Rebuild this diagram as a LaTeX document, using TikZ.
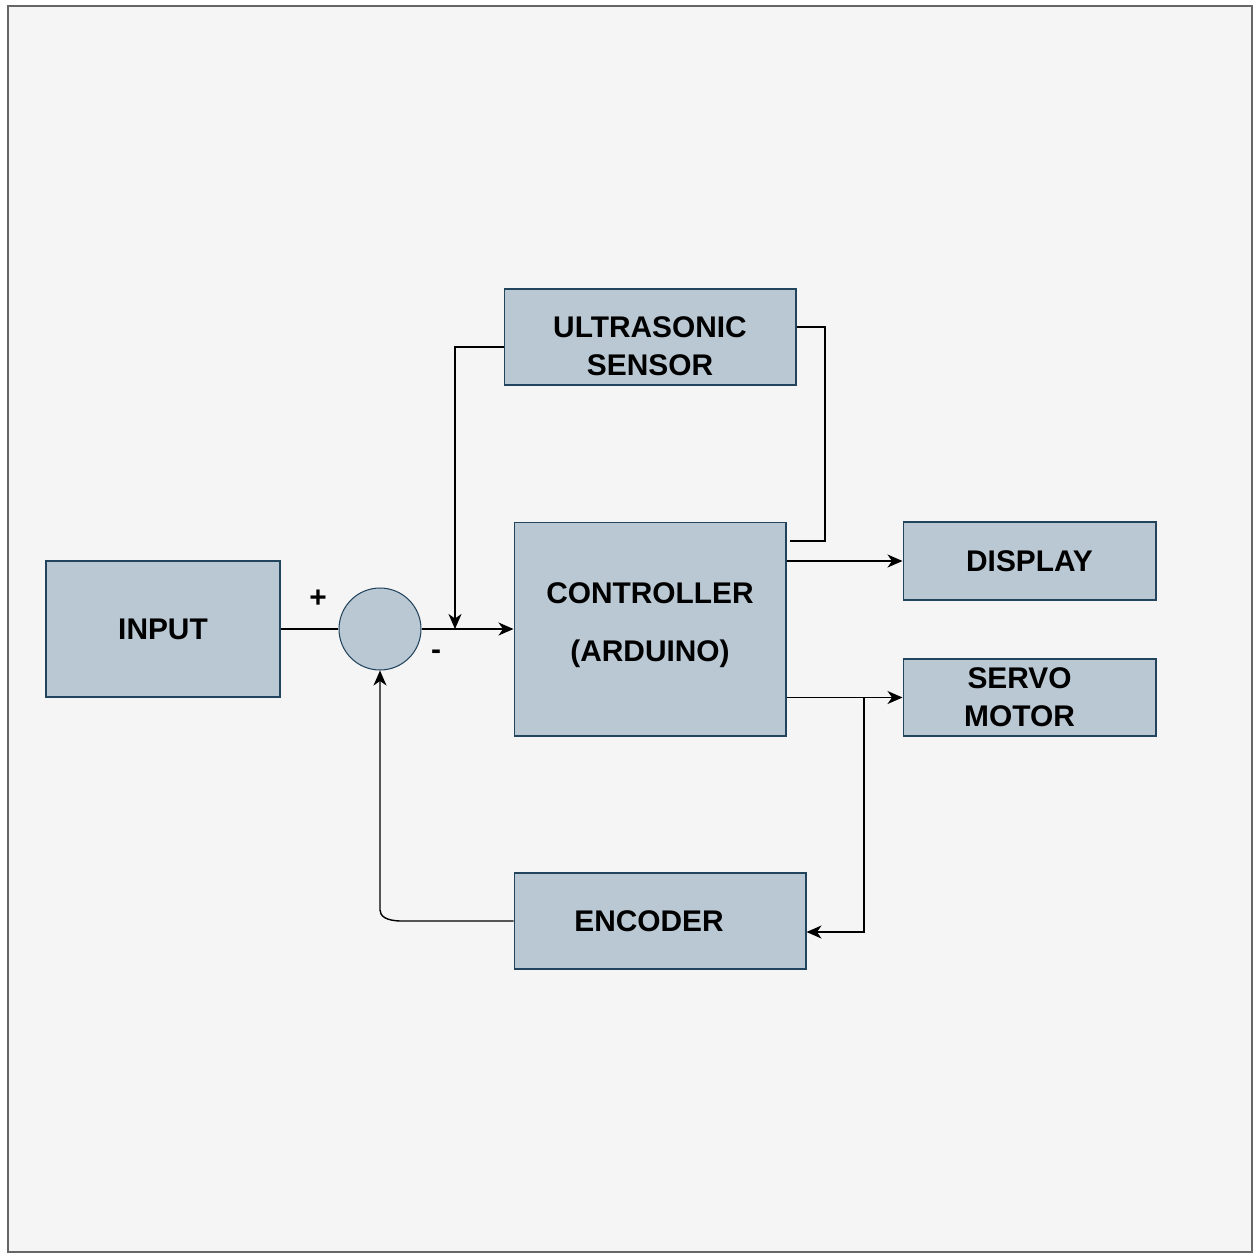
\documentclass[tikz,border=0pt]{standalone}
\usepackage{fontspec}
\setmainfont{Liberation Sans}
\usepackage{tikz}
\usetikzlibrary{arrows,arrows.meta,positioning}
\definecolor{boxfill}{HTML}{BAC8D3}
\definecolor{boxline}{HTML}{23445D}
\definecolor{pagebg}{HTML}{F5F5F5}

\begin{document}
\begin{tikzpicture}[>={Stealth[length=0.3cm,width=0.26cm,inset=0.09cm]},x=0.02cm,y=-0.02cm,thick,
                    font=\fontsize{17}{21.6}\selectfont\bfseries]
  \tikzstyle{block}=[draw=boxline,fill=boxfill,semithick,align=center,inner sep=0pt]
  \tikzstyle{sumnode}=[circle,draw=boxline,fill=boxfill,semithick,minimum size=1.64cm,inner sep=0pt]

  % page
  \useasboundingbox (0,0) rectangle (1253,1254);
  \draw[fill=pagebg,draw=black!60,line width=0.04cm] (8,6) rectangle (1252,1252);

  \node[block,minimum width=4.68cm,minimum height=2.72cm] (input) at (163,629) {INPUT};
  \node[sumnode] (sum) at (380,629) {};
  \node[block,minimum width=5.44cm,minimum height=4.28cm] (ctl) at (650,629)
        {\\[-0.5cm]CONTROLLER\\[0.4cm](ARDUINO)};
  \node[block,minimum width=5.84cm,minimum height=1.92cm,
        label={[yshift=-0.18cm,align=center]center:ULTRASONIC\\SENSOR}] (us) at (650,337) {};
  \node[block,minimum width=5.06cm,minimum height=1.56cm] (disp) at (1029.5,561) {DISPLAY};
  \node[block,minimum width=5.06cm,minimum height=1.54cm,
        label={[xshift=-0.2cm,align=center]center:SERVO\\MOTOR}] (servo) at (1029.5,697.5) {};
  \node[block,minimum width=5.84cm,minimum height=1.92cm,
        label={[xshift=-0.22cm]center:ENCODER}] (enc) at (660,921) {};

  \node (plus)  at (318,599) {+};
  \node (minus) at (436,655) {-};

  \coordinate (junc)   at (455,629);
  \coordinate (branch) at (864,697);

  \draw (input.east) -- (sum.west);
  \draw[->] (sum.east) -- (ctl.west);
  \draw[->] (us.west |- 0,347) -| (junc);
  \draw (us.east |- 0,327) -- (825,327) |- (790,541);
  \draw[->] (ctl.east |- disp.west) -- (disp.west);
  \draw[->] (ctl.east |- servo.west) -- (servo.west);
  \draw[->] (branch) |- (enc.east |- 0,932);
  \draw[->] (enc.west) -- (402,921) .. controls (386,921) and (380,916) .. (380,910) -- (sum.south);
\end{tikzpicture}
\end{document}
